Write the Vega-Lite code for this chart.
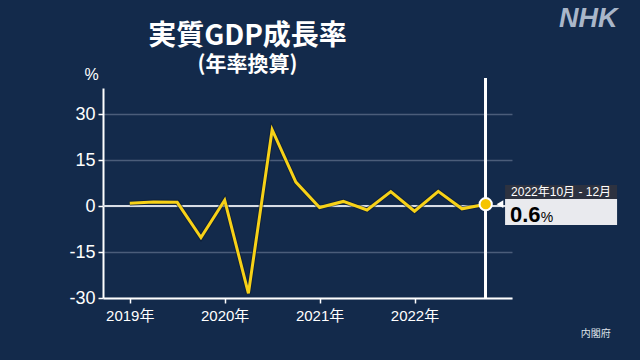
{
  "$schema": "https://vega.github.io/schema/vega-lite/v6.json",
  "width": 409,
  "height": 210,
  "autosize": {"type": "none"},
  "padding": {"left": 103, "top": 88, "right": 128, "bottom": 62},
  "background": "#132a4b",
  "config": {
    "view": {"stroke": null},
    "font": "Liberation Sans, 'Noto Sans CJK JP'"
  },
  "title": {
    "text": "実質GDP成長率",
    "subtitle": "(年率換算)",
    "anchor": "middle",
    "frame": "group",
    "dx": -60,
    "offset": -70,
    "font": "'Noto Sans CJK JP'",
    "fontSize": 28,
    "fontWeight": "bold",
    "color": "#ffffff",
    "subtitleFont": "'Noto Sans CJK JP'",
    "subtitleFontSize": 21,
    "subtitleFontWeight": "bold",
    "subtitleColor": "#ffffff",
    "subtitlePadding": 3
  },
  "datasets": {
    "gdp": [
      {"t": 2019.0, "v": 0.9},
      {"t": 2019.25, "v": 1.3},
      {"t": 2019.5, "v": 1.2},
      {"t": 2019.75, "v": -10.3},
      {"t": 2020.0, "v": 1.9},
      {"t": 2020.25, "v": -28.5},
      {"t": 2020.5, "v": 24.9},
      {"t": 2020.75, "v": 7.8},
      {"t": 2021.0, "v": -0.5},
      {"t": 2021.25, "v": 1.5},
      {"t": 2021.5, "v": -1.3},
      {"t": 2021.75, "v": 4.7},
      {"t": 2022.0, "v": -1.7},
      {"t": 2022.25, "v": 4.8},
      {"t": 2022.5, "v": -0.9},
      {"t": 2022.75, "v": 0.6}
    ]
  },
  "data": {"name": "gdp"},
  "encoding": {
    "x": {
      "field": "t",
      "type": "quantitative",
      "scale": {"domain": [2018.718, 2023.027], "nice": false, "zero": false},
      "axis": {
        "values": [2019, 2020, 2021, 2022],
        "labelExpr": "datum.value + '年'",
        "title": null,
        "grid": false,
        "domainColor": "#ffffff",
        "domainWidth": 2,
        "tickColor": "#ffffff",
        "tickWidth": 1.5,
        "tickSize": 5,
        "labelColor": "#ffffff",
        "labelFontSize": 15,
        "labelPadding": 5,
        "labelFont": "Liberation Sans, 'Noto Sans CJK JP'"
      }
    },
    "y": {
      "field": "v",
      "type": "quantitative",
      "scale": {"domain": [-30, 38.5], "nice": false, "zero": false},
      "axis": {
        "values": [-30, -15, 0, 15, 30],
        "labelExpr": "replace(datum.label, '−', '-')",
        "title": "%",
        "titleAngle": 0,
        "titleX": -12,
        "titleY": -6,
        "titleAlign": "center",
        "titleFontSize": 16,
        "titleFontWeight": "normal",
        "titleColor": "#ffffff",
        "grid": true,
        "gridColor": "#4b5d7a",
        "gridWidth": 1.5,
        "domainColor": "#ffffff",
        "domainWidth": 2,
        "tickColor": "#ffffff",
        "tickWidth": 1.5,
        "tickSize": 5,
        "labelColor": "#ffffff",
        "labelFontSize": 18,
        "labelPadding": 3,
        "labelFont": "Liberation Sans"
      }
    }
  },
  "layer": [
    {
      "mark": {"type": "rule", "color": "#d8dde5", "strokeWidth": 2},
      "encoding": {"y": {"datum": 0}, "x": null}
    },
    {
      "mark": {"type": "rule", "color": "#ffffff", "strokeWidth": 2},
      "encoding": {"x": {"datum": 2022.75}, "y": {"datum": -30}, "y2": {"datum": 41.7}}
    },
    {
      "mark": {"type": "line", "color": "#0b1a30", "strokeWidth": 5, "opacity": 0.6, "strokeJoin": "miter"}
    },
    {
      "mark": {"type": "line", "color": "#f7d117", "strokeWidth": 3, "strokeJoin": "miter"}
    },
    {
      "transform": [{"filter": "datum.t == 2022.75"}],
      "mark": {"type": "point", "filled": true, "fill": "#f5c400", "stroke": "#ffffff", "strokeWidth": 2, "size": 150, "opacity": 1}
    },
    {
      "transform": [{"filter": "datum.t == 2022.75"}],
      "mark": {"type": "point", "shape": "triangle-left", "filled": true, "color": "#ffffff", "size": 60, "opacity": 1},
      "encoding": {"x": {"datum": 2022.9}}
    },
    {
      "transform": [{"filter": "datum.t == 2022.75"}],
      "mark": {"type": "rect", "color": "#2d3240"},
      "encoding": {"x": {"datum": 2022.954}, "x2": {"datum": 2024.134}, "y": {"datum": 6.85}, "y2": {"datum": 2.28}}
    },
    {
      "transform": [{"filter": "datum.t == 2022.75"}],
      "mark": {"type": "rect", "color": "#e9eaee"},
      "encoding": {"x": {"datum": 2022.954}, "x2": {"datum": 2024.134}, "y": {"datum": 2.28}, "y2": {"datum": -6.2}}
    },
    {
      "transform": [{"filter": "datum.t == 2022.75"}],
      "mark": {"type": "text", "text": "2022年10月 - 12月", "color": "#ffffff", "fontSize": 12, "align": "center", "baseline": "alphabetic", "font": "Liberation Sans, 'Noto Sans CJK JP'"},
      "encoding": {"x": {"datum": 2023.544}, "y": {"datum": 3.26}}
    },
    {
      "transform": [{"filter": "datum.t == 2022.75"}, {"calculate": "datum.v + ''", "as": "label"}],
      "mark": {"type": "text", "color": "#000000", "fontSize": 22, "fontWeight": "bold", "align": "left", "baseline": "alphabetic", "font": "Liberation Sans"},
      "encoding": {"text": {"field": "label"}, "x": {"datum": 2023.006}, "y": {"datum": -5.2}}
    },
    {
      "transform": [{"filter": "datum.t == 2022.75"}],
      "mark": {"type": "text", "text": "%", "color": "#000000", "fontSize": 14, "align": "left", "baseline": "alphabetic", "font": "Liberation Sans"},
      "encoding": {"x": {"datum": 2023.33}, "y": {"datum": -5.2}}
    },
    {
      "transform": [{"filter": "datum.t == 2022.75"}],
      "mark": {"type": "text", "text": "NHK", "color": "#a9b6c9", "fontSize": 27, "fontWeight": "bold", "fontStyle": "italic", "align": "center", "baseline": "alphabetic", "font": "Liberation Sans"},
      "encoding": {"x": {"datum": 2023.83}, "y": {"datum": 58.4}}
    },
    {
      "transform": [{"filter": "datum.t == 2022.75"}],
      "mark": {"type": "text", "text": "内閣府", "color": "#dfe3ea", "fontSize": 10, "align": "center", "baseline": "alphabetic", "font": "'Noto Sans CJK JP'"},
      "encoding": {"x": {"datum": 2023.91}, "y": {"datum": -42.7}}
    }
  ]
}
